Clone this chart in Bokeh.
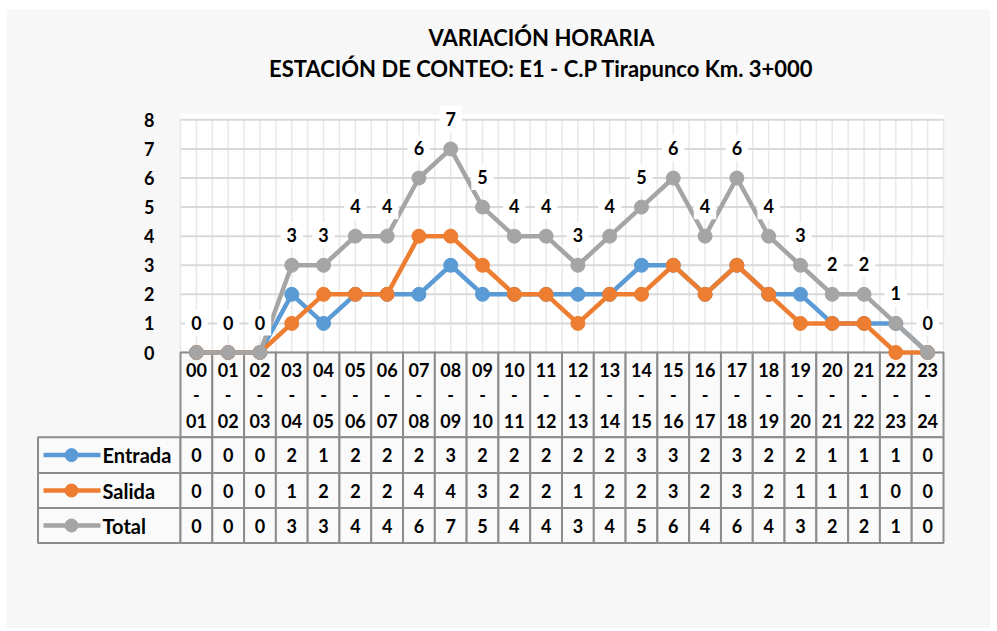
from bokeh.plotting import figure
from bokeh.models import Range1d, FixedTicker, ColumnDataSource
from bokeh.core.properties import value
from bokeh.embed import file_html
from bokeh.resources import INLINE

# ---------------- data ----------------
categories = ["00-01", "01-02", "02-03", "03-04", "04-05", "05-06", "06-07", "07-08",
              "08-09", "09-10", "10-11", "11-12", "12-13", "13-14", "14-15", "15-16",
              "16-17", "17-18", "18-19", "19-20", "20-21", "21-22", "22-23", "23-24"]
entrada = [0, 0, 0, 2, 1, 2, 2, 2, 3, 2, 2, 2, 2, 2, 3, 3, 2, 3, 2, 2, 1, 1, 1, 0]
salida = [0, 0, 0, 1, 2, 2, 2, 4, 4, 3, 2, 2, 1, 2, 2, 3, 2, 3, 2, 1, 1, 1, 0, 0]
total = [0, 0, 0, 3, 3, 4, 4, 6, 7, 5, 4, 4, 3, 4, 5, 6, 4, 6, 4, 3, 2, 2, 1, 0]
series_names = ["Entrada", "Salida", "Total"]
y_ticks = [0, 1, 2, 3, 4, 5, 6, 7, 8]
title_lines = ["VARIACIÓN HORARIA", "ESTACIÓN DE CONTEO: E1 - C.P Tirapunco Km. 3+000"]

# ---------------- styles ----------------
COLORS = ["#5B9BD5", "#ED7D31", "#A5A5A5"]
BG = "#F7F7F7"
FONT = value("Lato")
W, H = 990, 628

# layout in page pixels
N = len(categories)
AREA_L, AREA_R = 180.0, 943.0
COL_W = (AREA_R - AREA_L) / N
Y0_PX, UNIT_PX = 352.0, 29.08


def xd(px):
    return (px - AREA_L) / COL_W - 0.5


def yd(py):
    return (Y0_PX - py) / UNIT_PX


p = figure(width=W, height=H, output_backend="svg", toolbar_location=None,
           x_range=Range1d(xd(0), xd(W)), y_range=Range1d(yd(H), yd(0)),
           x_axis_location=None, min_border=0, outline_line_color=None,
           background_fill_color="white", border_fill_color="white")
p.grid.visible = False

# y axis at the left edge of the plot area
ax = p.yaxis[0]
ax.fixed_location = -0.5
ax.ticker = FixedTicker(ticks=y_ticks)
ax.axis_line_color = None
ax.major_tick_line_color = None
ax.minor_tick_line_color = None
ax.major_label_standoff = 20
ax.major_label_text_font = "Lato"
ax.major_label_text_font_style = "bold"
ax.major_label_text_font_size = "18px"
ax.major_label_text_color = "black"

ymax = max(y_ticks)
xs = list(range(N))

# chart background
p.quad(left=[xd(6)], right=[xd(990)], bottom=[yd(H)], top=[yd(9)],
       fill_color=BG, line_color=None, level="underlay")
# plot area
p.quad(left=[-0.5], right=[N - 0.5], bottom=[0], top=[yd(114)],
       fill_color="white", line_color=None)
# vertical grid (category boundaries and centres)
vx = [-0.5 + k * 0.5 for k in range(2 * N + 1)]
p.segment(x0=vx, y0=[0] * len(vx), x1=vx, y1=[ymax] * len(vx),
          line_color="#E8E8E8", line_width=1.5)
# horizontal grid
p.segment(x0=[-0.5] * len(y_ticks), y0=y_ticks, x1=[N - 0.5] * len(y_ticks), y1=y_ticks,
          line_color="#D9D9D9", line_width=2)

# ---------------- data table ----------------
HDR_B = yd(436.7)
row_bounds = [(yd(436.7), yd(472.5)), (yd(472.5), yd(507.5)), (yd(507.5), yd(542.5))]
CELL_LINE = "#8C8C8C"
# header cells
p.quad(left=[i - 0.5 for i in xs], right=[i + 0.5 for i in xs],
       bottom=[HDR_B] * N, top=[0] * N, fill_color="#FAFAFA",
       line_color=CELL_LINE, line_width=2)
hdr_top = [c.split("-")[0] for c in categories]
hdr_bot = [c.split("-")[1] for c in categories]
for txt, py in ((hdr_top, 369), (["-"] * N, 394), (hdr_bot, 420)):
    p.text(x=xs, y=[yd(py)] * N, text=txt, text_align="center", text_baseline="middle",
           text_font=FONT, text_font_style="bold", text_font_size="18px", text_color="black")

series = [entrada, salida, total]
for r, (name, vals, col) in enumerate(zip(series_names, series, COLORS)):
    top, bot = row_bounds[r]
    ymid = (top + bot) / 2
    p.quad(left=[xd(37.5)] + [i - 0.5 for i in xs], right=[-0.5] + [i + 0.5 for i in xs],
           bottom=[bot] * (N + 1), top=[top] * (N + 1), fill_color="#FAFAFA",
           line_color=CELL_LINE, line_width=2)
    p.text(x=xs, y=[ymid] * N, text=[str(v) for v in vals], text_align="center",
           text_baseline="middle", text_font=FONT, text_font_style="bold",
           text_font_size="18px", text_color="black")
    # legend key
    p.segment(x0=[xd(43)], y0=[ymid], x1=[xd(100)], y1=[ymid], line_color=col, line_width=4.5)
    p.scatter(x=[xd(71)], y=[ymid], size=13, fill_color=col, line_color=col)
    p.text(x=[xd(102)], y=[ymid], text=[name], text_align="left", text_baseline="middle",
           text_font=FONT, text_font_style="bold", text_font_size="20px", text_color="black")

# ---------------- series ----------------
for name, vals, col in zip(series_names, series, COLORS):
    src = ColumnDataSource(dict(x=xs, y=vals))
    p.line("x", "y", source=src, line_color=col, line_width=4.5)
    p.scatter("x", "y", source=src, size=14, fill_color=col, line_color=col)

# data labels for Total
p.text(x=xs, y=total, text=[str(v) for v in total], y_offset=-30,
       text_align="center", text_baseline="middle", text_font=FONT,
       text_font_style="bold", text_font_size="18px", text_color="black",
       background_fill_color="white", padding=6)

# titles
for line, py in zip(title_lines, (37, 68)):
    p.text(x=[xd(541)], y=[yd(py)], text=[line], text_align="center", text_baseline="middle",
           text_font=FONT, text_font_style="bold", text_font_size="22px", text_color="black")

open("out.html", "w").write(file_html(p, INLINE))
